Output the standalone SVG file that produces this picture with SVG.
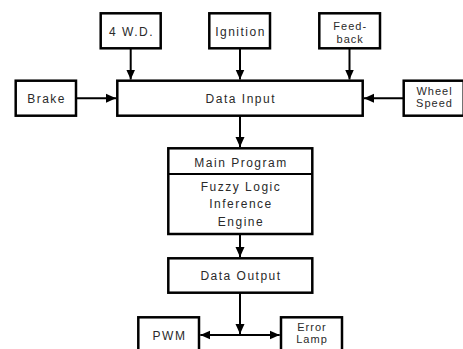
<svg xmlns="http://www.w3.org/2000/svg" width="463" height="349" viewBox="0 0 463 349">
<defs>
<style>
.box{fill:#fff;stroke:#000;stroke-width:2.5}
.ln{fill:none;stroke:#000;stroke-width:2}
.t{font-family:"Liberation Sans",Arial,sans-serif;font-size:12px;letter-spacing:1.5px;fill:#2a2a2a;text-anchor:middle}
.t2{font-family:"Liberation Sans",Arial,sans-serif;font-size:11px;letter-spacing:1px;fill:#2a2a2a;text-anchor:middle}
</style>
<marker id="ah" viewBox="0 0 10 10" refX="10" refY="5" markerWidth="10" markerHeight="10" markerUnits="userSpaceOnUse" orient="auto">
<path d="M0,0.5 L10,5 L0,9.5 Z" fill="#000"/>
</marker>
</defs>
<rect width="463" height="349" fill="#fff"/>
<g id="connectors">
<line class="ln" x1="130.7" y1="48.3" x2="130.7" y2="79.5" marker-end="url(#ah)"/>
<line class="ln" x1="240" y1="48.3" x2="240" y2="79.5" marker-end="url(#ah)"/>
<line class="ln" x1="349.5" y1="48.3" x2="349.5" y2="79.5" marker-end="url(#ah)"/>
<line class="ln" x1="76" y1="98.2" x2="116" y2="98.2" marker-end="url(#ah)"/>
<line class="ln" x1="403.7" y1="98.2" x2="364" y2="98.2" marker-end="url(#ah)"/>
<line class="ln" x1="240" y1="115.7" x2="240" y2="147" marker-end="url(#ah)"/>
<line class="ln" x1="240" y1="234" x2="240" y2="257" marker-end="url(#ah)"/>
<line class="ln" x1="240" y1="292.7" x2="240" y2="334" marker-end="url(#ah)"/>
<line class="ln" x1="240" y1="335" x2="200.3" y2="335" marker-end="url(#ah)"/>
<line class="ln" x1="240" y1="335" x2="279.7" y2="335" marker-end="url(#ah)"/>
</g>
<g id="n4wd">
<rect class="box" x="100.7" y="13.3" width="60" height="35"/>
<text class="t" x="131.5" y="35.5">4 W.D.</text>
</g>
<g id="ignition">
<rect class="box" x="209.3" y="13.3" width="60.7" height="35"/>
<text class="t" x="240.5" y="35.5">Ignition</text>
</g>
<g id="feedback">
<rect class="box" x="319.3" y="13.3" width="60.7" height="35"/>
<text class="t2" x="350.2" y="30.3">Feed-</text>
<text class="t2" x="350.2" y="42.5">back</text>
</g>
<g id="brake">
<rect class="box" x="15.7" y="80.7" width="60.3" height="35"/>
<text class="t" x="46.6" y="102.7">Brake</text>
</g>
<g id="datainput">
<rect class="box" x="117.3" y="80.7" width="245.4" height="35"/>
<text class="t" x="240.8" y="102.7">Data Input</text>
</g>
<g id="wheelspeed">
<rect class="box" x="403.7" y="80.7" width="60" height="35"/>
<text class="t2" x="434.5" y="95">Wheel</text>
<text class="t2" x="434.5" y="107.3">Speed</text>
</g>
<g id="mainprogram">
<rect class="box" x="168.3" y="148.3" width="144" height="85.7"/>
<line class="ln" x1="168.3" y1="174" x2="312.3" y2="174"/>
<text class="t" x="241" y="166.5">Main Program</text>
<text class="t" x="241" y="191">Fuzzy Logic</text>
<text class="t" x="241" y="208.3">Inference</text>
<text class="t" x="241" y="225.5">Engine</text>
</g>
<g id="dataoutput">
<rect class="box" x="168.3" y="258.3" width="144" height="34.4"/>
<text class="t" x="241" y="280">Data Output</text>
</g>
<g id="pwm">
<rect class="box" x="138.3" y="317.3" width="60.7" height="40"/>
<text class="t" x="169.5" y="339.5">PWM</text>
</g>
<g id="errorlamp">
<rect class="box" x="281" y="317.3" width="61" height="40"/>
<text class="t2" x="312" y="330.8">Error</text>
<text class="t2" x="312" y="343.1">Lamp</text>
</g>
</svg>
